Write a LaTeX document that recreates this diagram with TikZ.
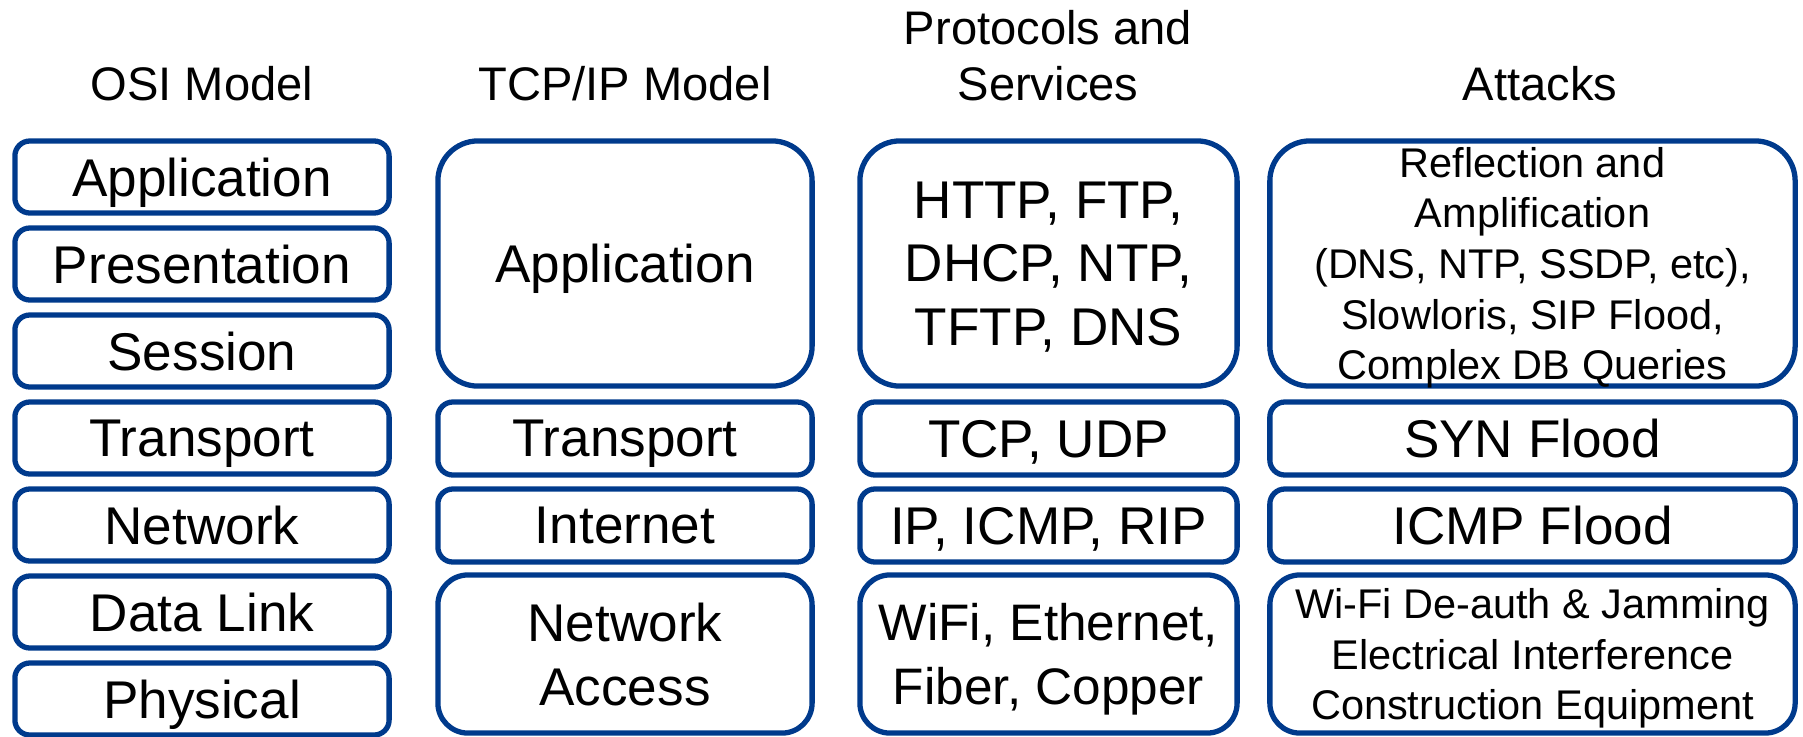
\documentclass[tikz,border=0pt]{standalone}
\usepackage{fontspec}
\setmainfont{Liberation Sans}
\definecolor{layerblue}{RGB}{0,58,140}
\begin{document}
\begin{tikzpicture}[x=0.01cm,y=-0.01cm,
    layer/.style={draw=layerblue, line width=1.5pt, rounded corners=0.15cm, inner sep=0pt,
      align=center, text depth=0pt, font=\fontsize{15.1}{18.1}\selectfont},
    head/.style={anchor=south, inner sep=0pt, align=center, text depth=0pt,
      font=\fontsize{13.4}{15.9}\selectfont},
    osicol/.style={minimum width=3.74cm},
    tcpcol/.style={minimum width=3.74cm},
    protocol/.style={minimum width=3.77cm},
    atkcol/.style={minimum width=5.25cm},
    approw/.style={minimum height=2.45cm, rounded corners=0.4cm},
    thinrow/.style={minimum height=0.73cm},
    accrow/.style={minimum height=1.58cm, rounded corners=0.3cm},
    atktext/.style={font=\fontsize{11.8}{14.4}\selectfont}]
    \useasboundingbox (0,0) rectangle (1803,736);
    \node[head] (hosi) at (202,101) {OSI Model};
    \node[head] (htcp) at (625,101) {TCP/IP Model};
    \node[head] (hproto) at (1048,101) {Protocols and\\Services};
    \node[head] (hatk) at (1540,101) {Attacks};
    \foreach \lab [count=\i from 0] in {Application,Presentation,Session,Transport,Network,Data Link,Physical}
        \node[layer, osicol, minimum height=0.72cm] (osi\i) at (202,177+87*\i) {\lab};
    \node[layer, tcpcol, approw] (tcpapp) at (625,263.5) {Application};
    \node[layer, tcpcol, thinrow] (tcptrans) at (625,438.5) {Transport};
    \node[layer, tcpcol, thinrow] (tcpnet) at (625,525.5) {Internet};
    \node[layer, tcpcol, accrow] (tcpacc) at (625,654) {Network\\Access};
    \node[layer, protocol, approw] (protoapp) at (1048.5,263.5) {HTTP, FTP,\\DHCP, NTP,\\TFTP, DNS};
    \node[layer, protocol, thinrow] (prototrans) at (1048.5,438.5) {TCP, UDP};
    \node[layer, protocol, thinrow] (protonet) at (1048.5,525.5) {IP, ICMP, RIP};
    \node[layer, protocol, accrow, font=\fontsize{14.6}{18.1}\selectfont] (protoacc) at (1048.5,654) {WiFi, Ethernet,\\Fiber, Copper};
    \node[layer, atkcol, approw, atktext] (atkapp) at (1532.5,263.5) {Reflection and\\Amplification\\(DNS, NTP, SSDP, etc),\\Slowloris, SIP Flood,\\Complex DB Queries};
    \node[layer, atkcol, thinrow] (atktrans) at (1532.5,438.5) {SYN Flood};
    \node[layer, atkcol, thinrow] (atknet) at (1532.5,525.5) {ICMP Flood};
    \node[layer, atkcol, accrow, atktext] (atkacc) at (1532.5,654) {Wi-Fi De-auth \& Jamming\\Electrical Interference\\Construction Equipment};
\end{tikzpicture}
\end{document}
